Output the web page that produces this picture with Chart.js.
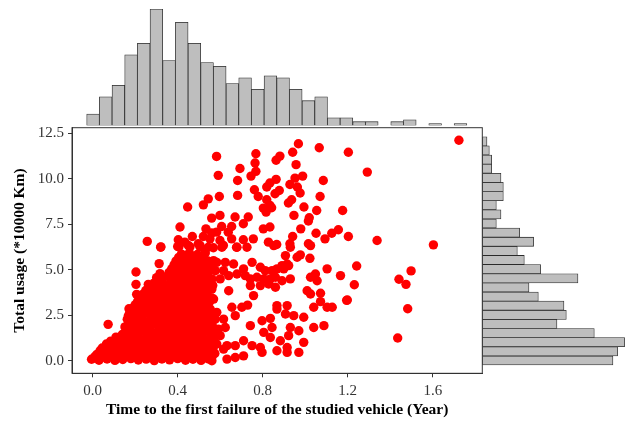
<!DOCTYPE html>
<html>
<head>
<meta charset="utf-8">
<script src="https://cdn.jsdelivr.net/npm/chart.js@4"></script>
<style>
  html, body { margin: 0; padding: 0; background: #ffffff; }
  #wrap { position: relative; width: 626px; height: 422px; overflow: hidden; background: #ffffff; }
  #wrap canvas { position: absolute; left: 0; top: 0; }
</style>
</head>
<body>
<div id="wrap">
  <canvas id="topHist" width="626" height="422"></canvas>
  <canvas id="sideHist" width="626" height="422"></canvas>
  <canvas id="main" width="626" height="422"></canvas>
</div>
<script>
// ---- data ---------------------------------------------------------------
// time to first failure (years) vs total usage (x10000 km), one pair per vehicle
const sparsePoints = [
  [0.544,8.9],[0.521,8.57],[0.447,8.45],[0.56,7.84],[0.411,7.35],[0.533,7.25],[0.56,7.03],[0.469,6.83],[0.521,6.83],[0.403,6.65],
  [0.434,6.52],[0.497,6.43],[0.257,6.56],[0.32,6.24],[0.552,6.7],[0.4,6.28],[0.45,6.34],[0.505,6.34],[0.544,6.24],
  [0.583,11.23],[0.591,10.19],[0.968,11.93],[1.066,11.71],[1.203,11.46],[0.768,11.38],[0.941,11.46],[0.881,11.25],[0.863,11.02],[0.764,10.87],
  [0.957,10.78],[0.693,10.57],[0.768,10.41],[0.745,10.15],[0.682,9.91],[0.952,10.04],[0.988,10.15],[1.085,9.91],[0.863,9.97],[0.834,9.77],
  [0.819,9.55],[0.928,9.69],[0.963,9.55],[0.878,9.36],[0.761,9.4],[0.976,9.22],[0.779,9.03],[0.682,9.09],[0.596,9.03],[1.07,9.03],
  [0.858,9.18],[0.819,8.85],[0.936,8.85],[0.921,8.67],[0.834,8.54],[0.803,8.39],[0.842,8.41],[0.994,8.45],[0.816,8.17],[1.054,8.26],
  [1.176,8.26],[0.599,7.99],[0.67,7.9],[0.732,7.9],[0.947,7.99],[1.019,7.86],[0.709,7.53],[1.015,7.68],[0.654,7.38],[0.607,7.38],
  [0.803,7.25],[0.834,7.35],[0.979,7.25],[1.156,7.2],[1.125,7.01],[1.051,7.01],[0.638,7.07],[0.583,7.07],[1.203,6.83],[0.941,6.83],
  [1.093,6.7],[0.756,6.7],[0.709,6.65],[0.654,6.7],[0.599,6.61],[0.827,6.52],[0.866,6.39],[0.928,6.43],[1.015,6.43],[0.677,6.24],
  [0.568,6.21],[0.615,6.34],
  [1.723,12.12],[1.292,10.37],[1.338,6.61],[1.603,6.37],[1.242,5.21],[1.231,4.18],[1.195,3.32],[1.441,4.48],[1.498,4.94],[1.474,4.2],
  [1.482,2.86],[1.435,1.25]
];

const midPoints = [
  [0.608,6.24],[0.679,6.24],[0.726,6.24],[0.852,6.33],[0.93,6.24],[1.025,6.33],[0.977,5.82],[1.022,5.63],[0.962,5.69],[0.907,5.78],
  [0.915,5.32],[0.899,5.05],[0.569,5.5],[0.584,5.41],[0.624,5.41],[0.663,5.32],[0.616,4.95],[0.577,4.95],[0.561,4.5],[0.6,4.5],
  [0.64,4.68],[0.679,4.77],[0.71,5.05],[0.75,5.41],[0.789,5.14],[0.812,4.95],[0.844,4.95],[0.867,5.05],[0.891,5.23],[0.922,5.23],
  [0.86,4.59],[0.836,4.5],[0.805,4.5],[0.773,4.59],[0.742,4.5],[0.718,4.68],[0.742,4.13],[0.789,4.13],[0.828,4.22],[0.86,4.04],
  [0.891,4.4],[0.93,4.5],[0.757,3.58],[0.64,3.85],[0.561,3.94],[0.569,3.39],[0.553,2.84],[0.584,2.66],[0.577,2.29],[0.616,2.29],
  [0.655,2.94],[0.671,2.48],[0.702,2.94],[0.729,3.06],[0.624,1.83],[0.592,1.74],[0.569,1.47],[0.6,1.38],[0.584,0.92],[0.632,0.83],
  [0.671,0.83],[0.616,0.64],[0.632,0.09],[0.671,0.18],[0.71,0.27],[0.71,1.1],[0.75,0.83],[0.789,0.73],[0.797,0.46],[0.553,0.46],
  [0.561,0.0],[0.742,1.93],[0.797,2.2],[0.836,2.33],[0.805,1.56],[0.844,1.83],[0.836,1.28],[0.883,1.1],[0.867,0.55],[0.915,0.73],
  [0.915,0.46],[0.97,0.46],[0.867,3.03],[0.867,2.84],[0.915,3.03],[0.907,2.57],[0.946,2.48],[0.993,2.39],[0.93,1.83],[0.97,1.65],
  [0.922,1.38],[0.993,1.01],[1.04,1.83],[1.088,1.93],[1.04,2.94],[1.103,2.94],[1.127,2.94],[1.072,3.25],[1.072,3.71],[1.009,3.85],
  [1.025,3.67],[1.025,4.59],[1.048,4.77],[1.056,4.4],[1.103,5.05],[1.166,4.68],[1.198,3.34],
  [0.321,6.26],[0.406,6.26],[0.458,6.26],[0.505,6.26],[0.313,5.34],[0.204,4.88],[0.317,4.79],[0.387,5.07],[0.204,4.2],[0.262,4.2],
  [0.207,3.65],[0.301,4.57],[0.332,4.57],[0.171,2.86],[0.073,2.0],[0.011,0.15],[0.042,0.39],[0.073,0.88]
];

const densePoints = [
  [-0.005,0.08],[0.03,0.03],[0.068,0.1],[0.105,0.02],[0.142,0.07],[0.18,0.12],[0.215,0.04],[0.252,0.09],[0.29,0.01],[0.326,0.1],
  [0.362,0.05],[0.4,0.12],[0.437,0.03],[0.472,0.08],[0.51,0.02],[0.545,0.1],
  [0.01,0.22],[0.048,0.2],[0.086,0.25],[0.124,0.19],[0.161,0.24],[0.198,0.21],[0.234,0.26],[0.27,0.18],[0.308,0.23],[0.344,0.2],
  [0.381,0.25],[0.418,0.19],[0.455,0.22],[0.49,0.26],[0.527,0.2],[0.562,0.23],
  [0.02,0.35],[0.058,0.42],[0.095,0.33],[0.132,0.45],[0.17,0.38],[0.205,0.3],[0.243,0.44],[0.28,0.36],[0.318,0.43],[0.355,0.32],
  [0.39,0.4],[0.428,0.47],[0.463,0.35],[0.5,0.42],[0.538,0.31],[0.575,0.4],
  [0.035,0.55],[0.075,0.6],[0.112,0.52],[0.15,0.58],[0.188,0.56],[0.224,0.61],[0.262,0.53],[0.298,0.59],[0.336,0.55],[0.372,0.6],
  [0.41,0.54],[0.446,0.58],[0.482,0.52],[0.519,0.6],[0.556,0.56],
  [0.045,0.7],[0.083,0.78],[0.12,0.68],[0.157,0.8],[0.195,0.72],[0.232,0.66],[0.27,0.79],[0.307,0.71],[0.345,0.82],[0.382,0.69],
  [0.418,0.77],[0.455,0.7],[0.492,0.83],[0.53,0.74],[0.566,0.68],
  [0.065,0.92],[0.102,0.96],[0.14,0.9],[0.178,0.95],[0.216,0.88],[0.253,0.97],[0.29,0.92],[0.328,0.89],[0.366,0.96],[0.403,0.91],
  [0.44,0.94],[0.478,0.88],[0.515,0.97],[0.552,0.92],
  [0.085,1.08],[0.122,1.15],[0.16,1.04],[0.198,1.17],[0.236,1.1],[0.272,1.02],[0.31,1.16],[0.347,1.07],[0.385,1.13],[0.422,1.05],
  [0.46,1.18],[0.497,1.09],[0.534,1.14],[0.572,1.06],
  [0.11,1.3],[0.142,1.26],[0.18,1.33],[0.217,1.28],[0.255,1.34],[0.292,1.27],[0.33,1.31],[0.367,1.25],[0.405,1.33],[0.443,1.29],
  [0.48,1.35],[0.517,1.27],[0.555,1.32],
  [0.14,1.45],[0.176,1.52],[0.214,1.42],[0.251,1.56],[0.289,1.48],[0.326,1.4],[0.364,1.55],[0.401,1.46],[0.438,1.53],[0.476,1.43],
  [0.513,1.5],[0.55,1.58],
  [0.158,1.68],[0.195,1.73],[0.233,1.66],[0.27,1.71],[0.308,1.65],[0.345,1.74],[0.383,1.68],[0.42,1.72],[0.457,1.66],[0.495,1.73],
  [0.532,1.69],[0.57,1.75],
  [0.152,1.86],[0.19,1.94],[0.227,1.83],[0.265,1.92],[0.302,1.98],[0.34,1.85],[0.377,1.93],[0.414,1.88],[0.452,1.97],[0.489,1.84],
  [0.527,1.92],[0.562,1.99],
  [0.17,2.08],[0.207,2.14],[0.245,2.06],[0.282,2.12],[0.32,2.1],[0.357,2.16],[0.395,2.07],[0.432,2.13],[0.47,2.09],[0.507,2.15],[0.545,2.05],
  [0.163,2.28],[0.2,2.35],[0.238,2.24],[0.276,2.33],[0.313,2.26],[0.35,2.38],[0.388,2.3],[0.426,2.22],[0.463,2.36],[0.5,2.27],[0.538,2.34],
  [0.168,2.47],[0.195,2.52],[0.232,2.45],[0.27,2.53],[0.307,2.48],[0.344,2.55],[0.382,2.46],[0.42,2.51],[0.457,2.49],[0.494,2.56],
  [0.53,2.47],[0.565,2.52],
  [0.175,2.66],[0.213,2.74],[0.25,2.63],[0.288,2.76],[0.325,2.68],[0.362,2.72],[0.4,2.64],[0.437,2.78],[0.475,2.7],[0.512,2.65],[0.55,2.75],
  [0.19,2.9],[0.226,2.86],[0.263,2.93],[0.3,2.88],[0.338,2.95],[0.375,2.87],[0.412,2.92],[0.45,2.89],[0.487,2.94],[0.524,2.86],
  [0.2,3.08],[0.238,3.14],[0.275,3.03],[0.312,3.12],[0.35,3.06],[0.387,3.16],[0.425,3.04],[0.462,3.11],[0.5,3.18],[0.537,3.07],
  [0.212,3.27],[0.25,3.32],[0.288,3.26],[0.325,3.34],[0.362,3.28],[0.4,3.31],[0.437,3.25],[0.475,3.33],[0.512,3.29],[0.55,3.24],
  [0.225,3.47],[0.262,3.53],[0.3,3.44],[0.337,3.56],[0.375,3.49],[0.412,3.42],[0.45,3.54],[0.487,3.47],[0.525,3.52],[0.56,3.45],
  [0.237,3.66],[0.275,3.72],[0.312,3.65],[0.35,3.73],[0.387,3.68],[0.425,3.64],[0.462,3.71],[0.5,3.67],[0.537,3.74],
  [0.25,3.86],[0.288,3.93],[0.325,3.84],[0.363,3.95],[0.4,3.88],[0.438,3.82],[0.475,3.94],[0.512,3.87],[0.548,3.92],
  [0.27,4.06],[0.307,4.12],[0.345,4.05],[0.383,4.13],[0.42,4.08],[0.458,4.04],[0.495,4.11],[0.533,4.07],[0.565,4.14],
  [0.29,4.28],[0.328,4.34],[0.366,4.25],[0.404,4.36],[0.441,4.3],[0.478,4.24],[0.516,4.35],[0.552,4.27],
  [0.37,4.47],[0.408,4.52],[0.446,4.45],[0.484,4.53],[0.52,4.48],[0.557,4.44],
  [0.352,4.66],[0.39,4.74],[0.427,4.68],[0.465,4.62],[0.502,4.75],[0.54,4.67],
  [0.36,4.86],[0.398,4.92],[0.436,4.85],[0.473,4.9],[0.51,4.88],[0.548,4.93],
  [0.372,5.05],[0.41,5.13],[0.447,5.04],[0.485,5.14],[0.522,5.07],[0.558,5.12],
  [0.383,5.27],[0.42,5.33],[0.457,5.26],[0.495,5.32],[0.532,5.29],
  [0.392,5.48],[0.43,5.55],[0.467,5.45],[0.505,5.56],[0.542,5.49],
  [0.405,5.68],[0.442,5.72],[0.48,5.66],[0.518,5.71],
  [0.418,5.86],[0.455,5.93],[0.493,5.84],[0.53,5.92]
];

// marginal histogram of failure time: 30 bins, counts left to right
const timeBinFirst = 0.002;
const timeBinWidth = 0.0596;
const timeCounts = [6,15,21,37,43,61,34,54,43,33,31,22,25,19,26,25,19,13,15,4,4,2,2,0,2,3,0,1,0,1];

// marginal histogram of usage: 25 bins, counts bottom to top
const usageBinFirst = 0.015;
const usageBinWidth = 0.502;
const usageCounts = [56,58,61,48,32,36,35,24,20,41,25,18,15,22,16,6,8,6,9,9,8,4,4,3,2];

// axes
const xTicks = [0, 0.4, 0.8, 1.2, 1.6];
const yTicks = [0, 2.5, 5, 7.5, 10, 12.5];
const xRange = [-0.097, 1.833];
const yRange = [-0.69, 12.81];
const xTitle = 'Time to the first failure of the studied vehicle (Year)';
const yTitle = 'Total usage (*10000 Km)';

// ---- layout ---------------------------------------------------------------
const W = 626, H = 422;
const panel = { left: 72, top: 127.7, right: 482.3, bottom: 373.3 };
const topHistTop = 9;
const topHistBase = 125.5;
const SERIF = "'Liberation Serif', 'DejaVu Serif', serif";
const BAR_FILL = '#bebebe';
const BAR_EDGE = '#2a2a2a';
const TICK_FONT = { size: 15 };
const TITLE_FONT = { size: 15.5, weight: 'bold' };

Chart.defaults.font.family = SERIF;

const panelFrame = {
  id: 'panelFrame',
  afterDraw(chart) {
    const a = chart.chartArea;
    const ctx = chart.ctx;
    ctx.save();
    ctx.strokeStyle = '#333333';
    ctx.lineWidth = 1;
    ctx.strokeRect(a.left, a.top, a.right - a.left, a.bottom - a.top);
    ctx.restore();
  }
};

const common = {
  responsive: false,
  animation: false,
  devicePixelRatio: 1,
  events: [],
};

// main scatter
const allPoints = sparsePoints.concat(midPoints, densePoints);
new Chart(document.getElementById('main'), {
  type: 'scatter',
  data: {
    datasets: [{
      data: allPoints.map(([t, u]) => ({ x: t, y: u })),
      backgroundColor: '#ff0000',
      borderWidth: 0,
      pointRadius: 4.7,
      pointHoverRadius: 4.7
    }]
  },
  options: {
    ...common,
    layout: { padding: { left: 0, top: panel.top, right: W - panel.right, bottom: 0 } },
    plugins: { legend: { display: false }, tooltip: { enabled: false } },
    scales: {
      x: {
        type: 'linear', min: xRange[0], max: xRange[1],
        afterFit(s) { s.height = H - panel.bottom; },
        afterBuildTicks(s) { s.ticks = xTicks.map(v => ({ value: v })); },
        ticks: { callback: v => Number(v).toFixed(1), font: TICK_FONT, color: '#333333', padding: 5, maxRotation: 0, autoSkip: false },
        grid: { display: true, drawOnChartArea: false, drawTicks: true, tickLength: 4, color: '#333333', tickColor: '#333333' },
        border: { display: true, color: '#333333', width: 1 },
        title: { display: true, text: xTitle, color: '#000000', font: TITLE_FONT, padding: { top: 0, bottom: 2.5 } }
      },
      y: {
        type: 'linear', min: yRange[0], max: yRange[1],
        afterFit(s) { s.width = panel.left; },
        afterBuildTicks(s) { s.ticks = yTicks.map(v => ({ value: v })); },
        ticks: { callback: v => Number(v).toFixed(1), font: TICK_FONT, color: '#333333', padding: 4, autoSkip: false },
        grid: { display: true, drawOnChartArea: false, drawTicks: true, tickLength: 4, color: '#333333', tickColor: '#333333' },
        border: { display: true, color: '#333333', width: 1 },
        title: { display: true, text: yTitle, color: '#000000', font: TITLE_FONT, padding: { top: 10.5, bottom: 0 } }
      }
    }
  },
  plugins: [panelFrame]
});

// top marginal: failure time histogram
new Chart(document.getElementById('topHist'), {
  type: 'bar',
  data: {
    datasets: [{
      data: timeCounts.map((c, i) => ({ x: timeBinFirst + i * timeBinWidth, y: c })),
      backgroundColor: BAR_FILL,
      borderColor: BAR_EDGE,
      borderWidth: 0.8,
      borderSkipped: false,
      barPercentage: 1,
      categoryPercentage: 1
    }]
  },
  options: {
    ...common,
    layout: { padding: { left: panel.left, right: W - panel.right, top: topHistTop, bottom: H - topHistBase } },
    plugins: { legend: { display: false }, tooltip: { enabled: false } },
    scales: {
      x: { type: 'linear', min: xRange[0], max: xRange[1], offset: false, display: false },
      y: { type: 'linear', min: 0, max: 61, display: false }
    }
  }
});

// right marginal: usage histogram
new Chart(document.getElementById('sideHist'), {
  type: 'bar',
  data: {
    datasets: [{
      data: usageCounts.map((c, i) => ({ y: usageBinFirst + i * usageBinWidth, x: c })),
      backgroundColor: BAR_FILL,
      borderColor: BAR_EDGE,
      borderWidth: 0.8,
      borderSkipped: false,
      barPercentage: 1,
      categoryPercentage: 1
    }]
  },
  options: {
    ...common,
    indexAxis: 'y',
    layout: { padding: { left: panel.right, right: 0, top: panel.top, bottom: H - panel.bottom } },
    plugins: { legend: { display: false }, tooltip: { enabled: false } },
    scales: {
      y: { type: 'linear', min: yRange[0], max: yRange[1], offset: false, display: false },
      x: { type: 'linear', min: 0, max: 61.6, display: false }
    }
  }
});
</script>
</body>
</html>
